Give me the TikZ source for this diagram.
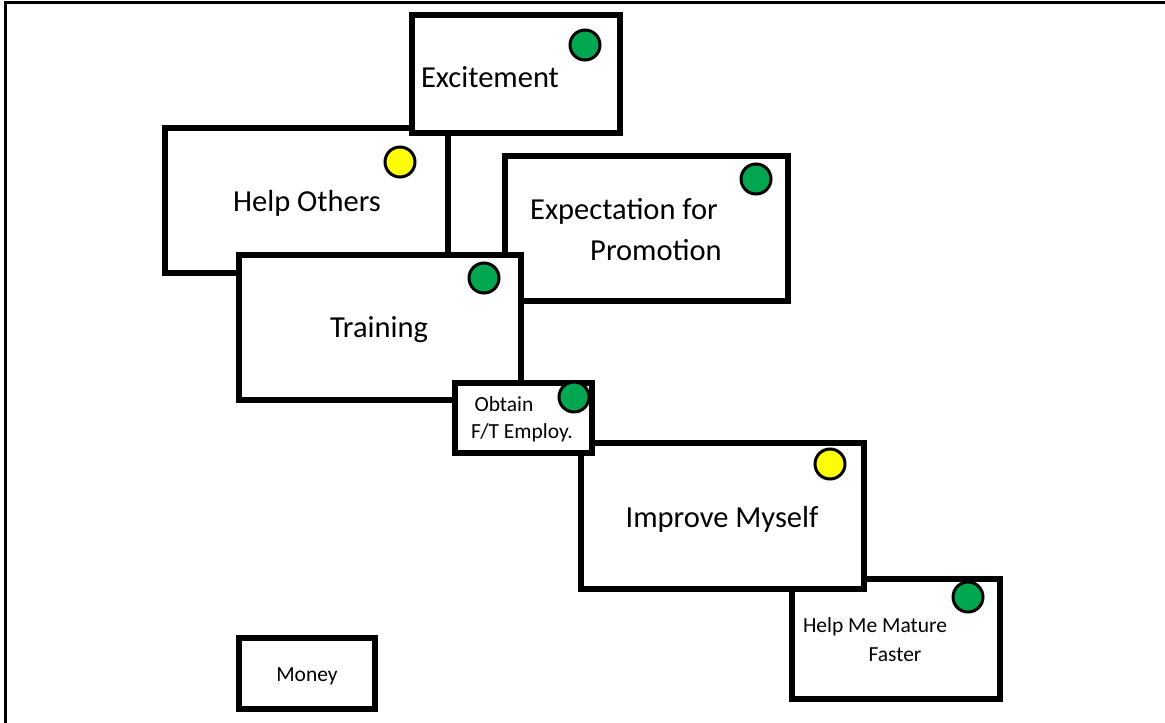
\documentclass[tikz,border=0pt]{standalone}
\usepackage{fontspec}
\setmainfont{Carlito}
\usetikzlibrary{positioning,fit,calc}
\definecolor{okgreen}{HTML}{00A650}
\definecolor{okyellow}{HTML}{FFFF00}
\tikzset{
  card/.style={draw=black, fill=white, line width=5.5pt, inner sep=0pt},
  dot/.style={circle, draw=black, line width=3pt, fill=#1, minimum size=30pt, inner sep=0pt},
  big/.style={inner sep=0pt, font=\fontsize{30.5}{33}\selectfont},
  small/.style={inner sep=0pt, font=\fontsize{21.5}{24}\selectfont}
}

\begin{document}
\begin{tikzpicture}[x=1pt, y=-1pt]
    \useasboundingbox (0,0) rectangle (1165,723);
    \draw[line width=3pt] (5.5,723) -- (5.5,2.5) -- (1165,2.5);

    \node[card, fit={(165,128) (448,273)}] (helpo) {};
    \node[card, fit={(412,15) (620,133)}] (excite) {};
    \node[card, fit={(505,156) (788,301)}] (expect) {};
    \node[card, fit={(239,255) (521,400)}] (train) {};
    \node[card, fit={(792,579) (1000,699)}] (mature) {};
    \node[card, fit={(581,443) (864,589)}] (improve) {};
    \node[card, fit={(455,383) (592,453)}] (obtain) {};
    \node[card, fit={(239,638) (375,709)}] (money) {};

    \node[dot=okgreen]  (excitedot) at (585,45) {};
    \node[dot=okyellow] (helpodot) at (400,162) {};
    \node[dot=okgreen]  (expectdot) at (756,179) {};
    \node[dot=okgreen]  (traindot) at (484,278) {};
    \node[dot=okgreen]  (obtaindot) at (574,397) {};
    \node[dot=okyellow] (improvedot) at (830,464) {};
    \node[dot=okgreen]  (maturedot) at (968,597) {};

    \node[big] (excitetxt) at (490,77) {Excitement};
    \node[big] (helpotxt) at (307,203) {Help Others};
    \node[big] (expecttxt) at (624,211) {Expectation for};
    \node[big] (promotxt) at (656,250) {Promotion};
    \node[big] (traintxt) at (379,330) {Training};
    \node[small] (obtaintxt) at (504,404) {Obtain};
    \node[small] (fttxt) at (522,433) {F/T Employ.};
    \node[big] (improvetxt) at (722,519) {Improve Myself};
    \node[small] (maturetxt) at (875,627) {Help Me Mature};
    \node[small] (fastertxt) at (895,655) {Faster};
    \node[small] (moneytxt) at (307,676) {Money};
\end{tikzpicture}
\end{document}
